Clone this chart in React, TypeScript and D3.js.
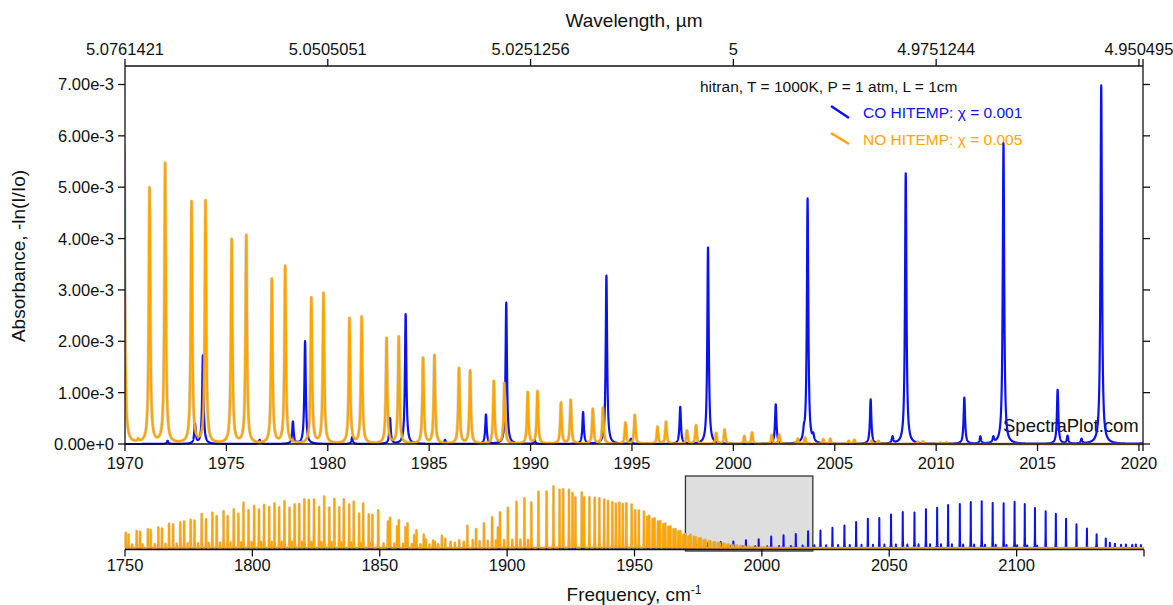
import React, { useMemo } from "react";
import * as d3 from "d3";

const W = 1173;
const H = 605;
const FONT = "'Liberation Sans', Arial, Helvetica, sans-serif";
const CO_COLOR = "#0b12f2";
const NO_COLOR = "#ffa500";

// line list: centre (cm-1), peak absorbance (x1e-3)
const CO_CENTERS = [
  1972.1, 1973.45, 1973.84, 1976.64, 1978.28, 1978.88, 1981.2, 1983.07, 1983.84, 1985.78,
  1987.8, 1988.8, 1990.2, 1992.59, 1993.74, 1994.95, 1997.38, 1998.75, 2002.09, 2003.48,
  2003.66, 2003.94, 2006.77, 2007.85, 2008.5, 2011.39, 2012.18, 2012.82, 2013.32, 2015.99,
  2016.48, 2017.17, 2018.14, 2020.6, 2023.0, 2025.2, 2027.7, 2029.9, 2032.4, 2034.5,
  2037.0, 2039.1, 2041.6, 2043.6, 2046.1, 2048.1, 2050.7, 2052.6, 2055.3, 2057.1,
  2059.9, 2061.5, 2064.4, 2066.0, 2068.8, 2070.3, 2073.1, 2074.6, 2077.7, 2079.0,
  2082.0, 2083.3, 2086.3, 2087.6, 2090.6, 2091.8, 2094.9, 2096.0, 2099.2, 2100.2,
  2103.2, 2104.2, 2107.2, 2108.1, 2111.4, 2115.4, 2119.4, 2123.5, 2127.6, 2131.4,
  2135.0, 2136.6, 2138.6, 2141.0, 2142.9, 2145.4, 2146.8, 2148.8,
];
const CO_PEAKS = [
  0.06, 0.38, 1.72, 0.08, 0.43, 2.0, 0.13, 0.5, 2.53, 0.08,
  0.57, 2.75, 0.08, 0.62, 3.28, 0.1, 0.72, 3.83, 0.77, 0.16,
  4.77, 0.12, 0.87, 0.13, 5.27, 0.9, 0.14, 0.11, 5.85, 1.05,
  0.15, 0.09, 6.98, 1.1, 7.3, 1.1, 8.4, 1.2, 9.4, 1.2,
  10.8, 1.3, 12.2, 1.3, 12.5, 1.4, 14.0, 1.4, 15.0, 1.4,
  14.8, 1.5, 16.1, 1.5, 16.8, 1.5, 17.9, 1.5, 18.3, 1.4,
  19.2, 1.4, 19.5, 1.3, 18.8, 1.3, 18.6, 1.2, 19.3, 1.1,
  18.3, 1.0, 16.7, 0.9, 15.3, 14.3, 12.2, 9.9, 8.1, 5.7,
  4.0, 2.2, 1.8, 1.4, 1.5, 1.3, 1.5, 1.25,
];

const NO_CENTERS = [
  // P branch
  1750.3, 1751.4, 1754.6, 1755.9, 1759.0, 1760.1, 1763.1, 1764.5, 1767.3, 1768.9,
  1771.7, 1773.2, 1775.8, 1777.3, 1780.1, 1781.8, 1784.3, 1786.0, 1788.7, 1790.3,
  1792.7, 1794.5, 1796.5, 1798.5, 1800.7, 1802.6, 1804.6, 1806.6, 1808.7, 1810.5,
  1812.6, 1814.6, 1816.6, 1818.4, 1820.4, 1822.2, 1824.2, 1826.2, 1828.2, 1830.2,
  1832.2, 1834.1, 1835.9, 1838.0, 1839.8, 1841.9, 1843.5, 1845.7, 1847.1, 1849.4,
  1853.2, 1854.0, 1856.8, 1857.5, 1860.1, 1860.9, 1863.5, 1864.4, 1867.3, 1868.1,
  1870.9, 1871.7, 1874.4, 1875.7, 1877.8, 1881.2,
  // weak lines between the P branch spikes
  1752.8, 1756.9, 1761.7, 1765.9, 1770.3, 1774.6, 1778.7, 1782.9, 1787.3, 1791.4,
  1795.6, 1799.7, 1803.5, 1807.6, 1811.5, 1815.6, 1819.5, 1823.2, 1827.1, 1831.1,
  1834.9, 1838.8, 1842.5, 1846.4, 1851.5, 1855.7, 1859.1, 1862.6, 1866.0, 1869.5,
  1872.9, 1879.5, 1883.0, 1889.2, 1892.4, 1895.6, 1898.8, 1902.0, 1905.2, 1908.2,
  // R branch
  1884.4, 1886.5, 1887.8, 1890.9, 1894.1, 1896.4, 1897.2, 1900.3, 1903.7, 1906.8,
  1909.5, 1912.3, 1915.5, 1918.2, 1920.6, 1922.0, 1924.3, 1925.7, 1926.8, 1929.3,
  1930.2, 1932.3, 1934.4, 1936.2, 1938.1, 1939.6, 1941.3, 1942.7, 1944.1, 1945.4,
  1946.8, 1948.9, 1950.3, 1951.7, 1953.7, 1955.0, 1955.8, 1957.1, 1957.9, 1959.2,
  1960.0, 1961.3, 1962.1, 1963.3, 1964.1, 1965.3, 1966.1, 1967.2, 1968.0, 1969.15,
  1969.96, 1970.65, 1971.21, 1971.98, 1973.28, 1973.97, 1975.26, 1975.98, 1977.24, 1977.9,
  1979.19, 1979.79, 1981.07, 1981.67, 1982.9, 1983.5, 1984.7, 1985.26, 1986.47, 1987.02,
  1988.19, 1988.71, 1989.86, 1990.34, 1991.5, 1991.98, 1993.07, 1993.57, 1994.68, 1995.14,
  1996.26, 1996.68, 1997.71, 1998.16, 1999.15, 1999.57, 2000.54, 2000.92, 2001.9, 2002.26,
  2003.18, 2003.54, 2004.44, 2004.78, 2005.69, 2005.97, 2006.82, 2007.15, 2009.08, 2009.35,
  2010.2, 2010.5,
];
const NO_PEAKS = [
  6.3, 5.6, 7.1, 6.8, 7.8, 7.5, 8.5, 8.1, 10.1, 9.9,
  10.6, 11.0, 11.8, 11.4, 14.2, 12.0, 14.7, 13.3, 15.3, 13.3,
  16.1, 14.2, 18.8, 15.7, 17.5, 16.0, 17.9, 17.1, 18.5, 17.0,
  19.5, 16.7, 18.1, 18.3, 20.3, 20.0, 20.2, 17.1, 21.4, 16.8,
  20.4, 17.0, 20.3, 18.1, 19.2, 14.3, 18.5, 14.0, 13.8, 15.7,
  11.0, 12.6, 9.0, 11.5, 8.6, 10.3, 5.4, 7.4, 5.6, 3.5,
  3.1, 2.6, 5.1, 3.8, 2.6, 3.2,
  1.4, 1.5, 1.6, 1.7, 1.8, 1.9, 2.0, 2.1, 2.2, 2.2,
  2.3, 2.4, 2.4, 2.5, 2.5, 2.5, 2.5, 2.5, 2.4, 2.4,
  2.3, 2.2, 2.1, 2.0, 1.9, 1.8, 1.7, 1.6, 1.5, 1.5,
  1.6, 2.2, 2.6, 2.8, 3.0, 3.2, 3.3, 3.4, 3.4, 3.3,
  9.3, 3.3, 7.9, 10.3, 12.8, 8.6, 14.9, 16.8, 19.3, 20.7,
  18.9, 23.4, 23.5, 25.7, 24.2, 24.5, 24.2, 22.9, 21.1, 23.1,
  21.1, 21.1, 20.9, 20.7, 20.2, 19.6, 19.0, 18.5, 18.8, 18.3,
  18.6, 18.1, 15.7, 15.6, 15.2, 13.0, 13.4, 12.0, 12.3, 11.0,
  11.2, 10.0, 10.2, 8.8, 9.0, 7.8, 7.9, 6.8, 7.0, 5.8,
  5.8, 0.05, 4.98, 5.45, 4.7, 4.73, 3.97, 4.05, 3.2, 3.45,
  2.84, 2.93, 2.44, 2.47, 2.05, 2.08, 1.67, 1.72, 1.47, 1.42,
  1.22, 1.18, 1.0, 1.02, 0.8, 0.85, 0.68, 0.7, 0.41, 0.56,
  0.33, 0.43, 0.26, 0.36, 0.21, 0.28, 0.15, 0.22, 0.17, 0.18,
  0.1, 0.12, 0.09, 0.1, 0.06, 0.08, 0.06, 0.06, 0.04, 0.05,
  0.03, 0.03,
];

const MAIN_X_TICKS = [1970, 1975, 1980, 1985, 1990, 1995, 2000, 2005, 2010, 2015, 2020];
const WAVELENGTH_TICKS = [1970, 1980, 1990, 2000, 2010, 2020];
const Y_TICKS = [0, 1, 2, 3, 4, 5, 6, 7];
const OVERVIEW_TICKS = [1750, 1800, 1850, 1900, 1950, 2000, 2050, 2100];
const ZOOM_WINDOW = [1970, 2020];
const HWHM = 0.042;

// Lorentzian sum of the line list on a regular grid
function spectrum(centers: number[], peaks: number[], lo: number, hi: number, step: number) {
  const n = Math.round((hi - lo) / step) + 1;
  const ys = new Float64Array(n);
  centers.forEach((c, i) => {
    if (c < lo - 3 || c > hi + 3) return;
    const k0 = Math.max(0, Math.floor((c - 3 - lo) / step));
    const k1 = Math.min(n - 1, Math.ceil((c + 3 - lo) / step));
    for (let k = k0; k <= k1; k++) {
      const d = lo + k * step - c;
      ys[k] += (peaks[i] * HWHM * HWHM) / (d * d + HWHM * HWHM);
    }
  });
  return Array.from(ys, (y, k) => [lo + k * step, y] as [number, number]);
}

const yLabel = (v: number) => (v === 0 ? "0.00e+0" : `${v.toFixed(2)}e-3`);
const wlLabel = (v: number) => String(+(10000 / v).toFixed(7));

export default function App() {
  const m = { left: 125, right: 1143, top: 66, bottom: 444 };
  const o = { left: 125, right: 1144, top: 476, bottom: 548 };

  const x = d3.scaleLinear().domain([1970, 2020.2]).range([m.left, m.right]);
  const y = d3.scaleLinear().domain([0, 7.36]).range([m.bottom, m.top]);
  const ox = d3.scaleLinear().domain([1750, 2150]).range([o.left, o.right]);
  const oy = d3.scaleLinear().domain([0, 30]).range([o.bottom, o.top]);

  const paths = useMemo(() => {
    const line = d3.line<[number, number]>().x((d) => x(d[0])).y((d) => y(d[1]));
    const oline = d3.line<[number, number]>().x((d) => ox(d[0])).y((d) => oy(d[1]));
    return {
      co: line(spectrum(CO_CENTERS, CO_PEAKS, 1969.8, 2020.4, 0.004)),
      no: line(spectrum(NO_CENTERS, NO_PEAKS, 1969.8, 2020.4, 0.004)),
      oco: oline(spectrum(CO_CENTERS, CO_PEAKS, 1750, 2150, 0.02)),
      ono: oline(spectrum(NO_CENTERS, NO_PEAKS, 1750, 2150, 0.02)),
    };
  }, []);

  const tick = 7;
  const tickFont = 16.5;
  const txt = { fontFamily: FONT, fill: "#111" } as const;

  return (
    <svg width={W} height={H} style={{ position: "absolute", left: 0, top: 0, background: "#fff" }}>
      <defs>
        <clipPath id="mainclip">
          <rect x={m.left} y={m.top} width={m.right - m.left} height={m.bottom - m.top + 2} />
        </clipPath>
      </defs>

      {/* titles */}
      <text x={634} y={27} textAnchor="middle" fontSize={19} {...txt}>Wavelength, µm</text>
      <text x={634} y={601} textAnchor="middle" fontSize={19} {...txt}>
        Frequency, cm<tspan dy={-7} fontSize={12}>-1</tspan>
      </text>
      <text transform="translate(25,256) rotate(-90)" textAnchor="middle" fontSize={19} {...txt}>
        Absorbance, -ln(I/Io)
      </text>

      {/* legend and annotation */}
      <text x={700} y={92} fontSize={15.5} {...txt}>hitran, T = 1000K, P = 1 atm, L = 1cm</text>
      <line x1={831} y1={106} x2={849} y2={118} stroke={CO_COLOR} strokeWidth={2.5} />
      <text x={863} y={118} fontSize={15.5} fontFamily={FONT} fill={CO_COLOR}>CO HITEMP: χ = 0.001</text>
      <line x1={831} y1={133} x2={849} y2={144} stroke={NO_COLOR} strokeWidth={2.5} />
      <text x={863} y={145} fontSize={15.5} fontFamily={FONT} fill={NO_COLOR}>NO HITEMP: χ = 0.005</text>
      <text x={1003} y={432} fontSize={18.5} {...txt}>SpectraPlot.com</text>

      {/* main spectra */}
      <g clipPath="url(#mainclip)" fill="none" strokeLinejoin="round">
        <path d={paths.co ?? ""} stroke={CO_COLOR} strokeWidth={2.2} />
        <path d={paths.no ?? ""} stroke="#8a8a8a" strokeOpacity={0.35} strokeWidth={3.4} />
        <path d={paths.no ?? ""} stroke={NO_COLOR} strokeWidth={2.2} />
      </g>

      {/* main frame */}
      <g stroke="#111" strokeWidth={1.3} fill="none">
        <line x1={m.left} y1={m.top} x2={m.right} y2={m.top} />
        <line x1={m.left} y1={m.bottom} x2={m.right} y2={m.bottom} />
        <line x1={m.left} y1={m.top} x2={m.left} y2={m.bottom} />
        <line x1={m.right} y1={m.top} x2={m.right} y2={m.bottom} />
        {MAIN_X_TICKS.map((t) => (
          <line key={"b" + t} x1={x(t)} x2={x(t)} y1={m.bottom} y2={m.bottom + tick} />
        ))}
        <line x1={m.right} x2={m.right} y1={m.bottom} y2={m.bottom + tick} />
        {WAVELENGTH_TICKS.map((t) => (
          <line key={"t" + t} x1={x(t)} x2={x(t)} y1={m.top} y2={m.top - tick} />
        ))}
        <line x1={m.right} x2={m.right} y1={m.top} y2={m.top - tick} />
        {Y_TICKS.map((t) => (
          <g key={"y" + t}>
            <line x1={m.left - tick} x2={m.left} y1={y(t)} y2={y(t)} />
            <line x1={m.right} x2={m.right + tick} y1={y(t)} y2={y(t)} />
          </g>
        ))}
      </g>
      {MAIN_X_TICKS.map((t) => (
        <text key={"bl" + t} x={x(t)} y={469} textAnchor="middle" fontSize={tickFont} {...txt}>{t}</text>
      ))}
      {WAVELENGTH_TICKS.map((t) => (
        <text key={"tl" + t} x={x(t)} y={55} textAnchor="middle" fontSize={tickFont} {...txt}>{wlLabel(t)}</text>
      ))}
      {Y_TICKS.map((t) => (
        <text key={"yl" + t} x={m.left - 11} y={y(t) + 6} textAnchor="end" fontSize={tickFont} {...txt}>{yLabel(t)}</text>
      ))}

      {/* overview with the zoom window */}
      <rect
        x={ox(ZOOM_WINDOW[0])}
        y={o.top}
        width={ox(ZOOM_WINDOW[1]) - ox(ZOOM_WINDOW[0])}
        height={o.bottom + 3 - o.top}
        fill="#dedede"
        stroke="#333"
        strokeWidth={1.3}
      />
      <g fill="none" strokeLinejoin="round">
        <path d={paths.oco ?? ""} stroke={CO_COLOR} strokeWidth={2} />
        <path d={paths.ono ?? ""} stroke="#8a8a8a" strokeOpacity={0.35} strokeWidth={3} />
        <path d={paths.ono ?? ""} stroke={NO_COLOR} strokeWidth={2} />
      </g>
      <g stroke="#111" strokeWidth={1.3}>
        <line x1={o.left} x2={o.right} y1={o.bottom + 1.5} y2={o.bottom + 1.5} />
        {OVERVIEW_TICKS.map((t) => (
          <line key={"o" + t} x1={ox(t)} x2={ox(t)} y1={o.bottom + 1.5} y2={o.bottom + 1.5 + tick} />
        ))}
        <line x1={o.right} x2={o.right} y1={o.bottom + 1.5} y2={o.bottom + 1.5 + tick} />
      </g>
      {OVERVIEW_TICKS.map((t) => (
        <text key={"ol" + t} x={ox(t)} y={571} textAnchor="middle" fontSize={tickFont} {...txt}>{t}</text>
      ))}
    </svg>
  );
}
